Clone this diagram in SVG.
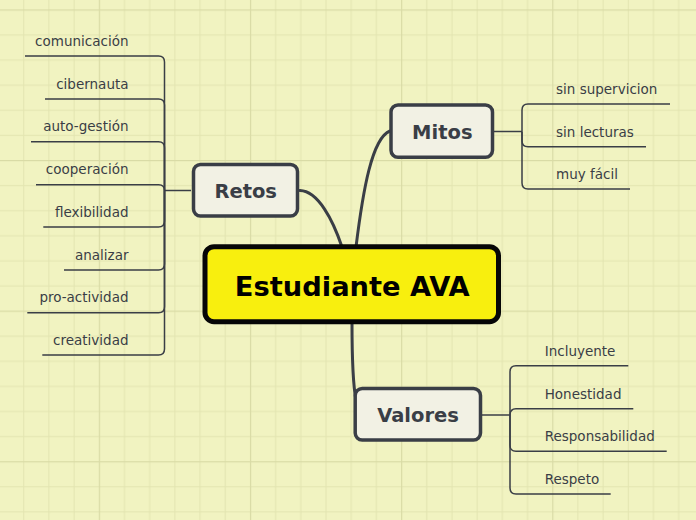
<svg xmlns="http://www.w3.org/2000/svg" width="696" height="520" viewBox="0 0 696 520">
<defs>
<pattern id="grid" patternUnits="userSpaceOnUse" x="98.8" y="9.4" width="151.14" height="150.6">
<rect x="0" y="0" width="151.14" height="150.6" fill="#f1f3c1"/>
<g fill="#e3e5b1">
<rect x="25.19" y="0" width="1" height="150.6"/>
<rect x="50.38" y="0" width="1" height="150.6"/>
<rect x="75.57" y="0" width="1" height="150.6"/>
<rect x="100.76" y="0" width="1" height="150.6"/>
<rect x="125.95" y="0" width="1" height="150.6"/>
<rect x="0" y="25.1" width="151.14" height="1"/>
<rect x="0" y="50.2" width="151.14" height="1"/>
<rect x="0" y="75.3" width="151.14" height="1"/>
<rect x="0" y="100.4" width="151.14" height="1"/>
<rect x="0" y="125.5" width="151.14" height="1"/>
</g>
<g fill="#d9dba6">
<rect x="0" y="0" width="1.2" height="150.6"/>
<rect x="0" y="0" width="151.14" height="1.2"/>
</g>
</pattern>
<style>
.sub{fill:#f2f1e4;stroke:#3a3e46;stroke-width:3.5}
.subt{font-family:"DejaVu Sans",sans-serif;font-weight:bold;font-size:19.5px;fill:#3a3e46;text-anchor:middle}
.leaf{font-family:"DejaVu Sans",sans-serif;font-size:13.5px;fill:#3a3e46}
.l{fill:none;stroke:#3a3e46;stroke-width:1.5}
.main{fill:none;stroke:#3a3e46;stroke-width:3;stroke-linecap:round}
</style>
</defs>
<rect x="0" y="0" width="696" height="520" fill="url(#grid)"/>

<g id="connectors">
<path class="main" d="M300,190.5 C318,191 333,220 342,247" stroke-width="2.6"/>
<path class="main" d="M356,247 C363,190 372,138 390,131"/>
<path class="main" d="M352,322 C352,360 353,385 356,400"/>
<!-- Retos branches -->
<path class="l" d="M191,190.5 H164.5"/>
<path class="l" d="M164.5,190.5 V62 Q164.5,56 158.5,56 H25"/>
<path class="l" d="M164.5,190.5 V105 Q164.5,99 158.5,99 H45"/>
<path class="l" d="M164.5,190.5 V147.7 Q164.5,141.7 158.5,141.7 H31"/>
<path class="l" d="M164.5,190.5 Q164.5,184.7 158.7,184.7 H36"/>
<path class="l" d="M164.5,190.5 V221 Q164.5,227 158.5,227 H43.3"/>
<path class="l" d="M164.5,190.5 V264 Q164.5,270 158.5,270 H64"/>
<path class="l" d="M164.5,190.5 V306.7 Q164.5,312.7 158.5,312.7 H27.3"/>
<path class="l" d="M164.5,190.5 V349 Q164.5,355 158.5,355 H42.3"/>
<!-- Mitos branches -->
<path class="l" d="M494,131.5 H522"/>
<path class="l" d="M522,131.5 V110 Q522,104 528,104 H670"/>
<path class="l" d="M522,131.5 V140.7 Q522,146.7 528,146.7 H646"/>
<path class="l" d="M522,131.5 V183 Q522,189 528,189 H630"/>
<!-- Valores branches -->
<path class="l" d="M482,415 H510"/>
<path class="l" d="M510,415 V371.7 Q510,365.7 516,365.7 H628.3"/>
<path class="l" d="M510,415 Q510,408.7 516,408.7 H633.3"/>
<path class="l" d="M510,415 V445.3 Q510,451.3 516,451.3 H666.7"/>
<path class="l" d="M510,415 V488 Q510,494 516,494 H610.7"/>
</g>

<g id="central">
<rect x="205" y="246.7" width="293.5" height="75" rx="9" fill="#f8ef0e" stroke="#060606" stroke-width="5"/>
<text x="352.3" y="295.7" font-family="DejaVu Sans, sans-serif" font-weight="bold" font-size="27.3" fill="#000" text-anchor="middle">Estudiante AVA</text>
</g>

<g id="retos">
<rect class="sub" x="193.5" y="164.5" width="104" height="51.5" rx="7"/>
<text class="subt" x="245.7" y="197.7">Retos</text>
</g>
<g id="mitos">
<rect class="sub" x="391" y="105" width="101.5" height="52.2" rx="7"/>
<text class="subt" x="442.3" y="139.3">Mitos</text>
</g>
<g id="valores">
<rect class="sub" x="355.2" y="388.5" width="125.3" height="51.5" rx="7"/>
<text class="subt" x="418" y="421.7">Valores</text>
</g>

<g id="retos-children" class="leaf" text-anchor="end">
<text x="128.5" y="45.7">comunicación</text>
<text x="128.5" y="88.7">cibernauta</text>
<text x="128.5" y="131.4">auto-gestión</text>
<text x="128.5" y="174.4">cooperación</text>
<text x="128.5" y="216.7">flexibilidad</text>
<text x="128.5" y="259.7">analizar</text>
<text x="128.5" y="302.4">pro-actividad</text>
<text x="128.5" y="344.7">creatividad</text>
</g>
<g id="mitos-children" class="leaf">
<text x="556" y="94">sin supervicion</text>
<text x="556" y="136.7">sin lecturas</text>
<text x="556" y="179.3">muy fácil</text>
</g>
<g id="valores-children" class="leaf">
<text x="544.7" y="356">Incluyente</text>
<text x="544.7" y="398.7">Honestidad</text>
<text x="544.7" y="441">Responsabilidad</text>
<text x="544.7" y="484">Respeto</text>
</g>
</svg>
